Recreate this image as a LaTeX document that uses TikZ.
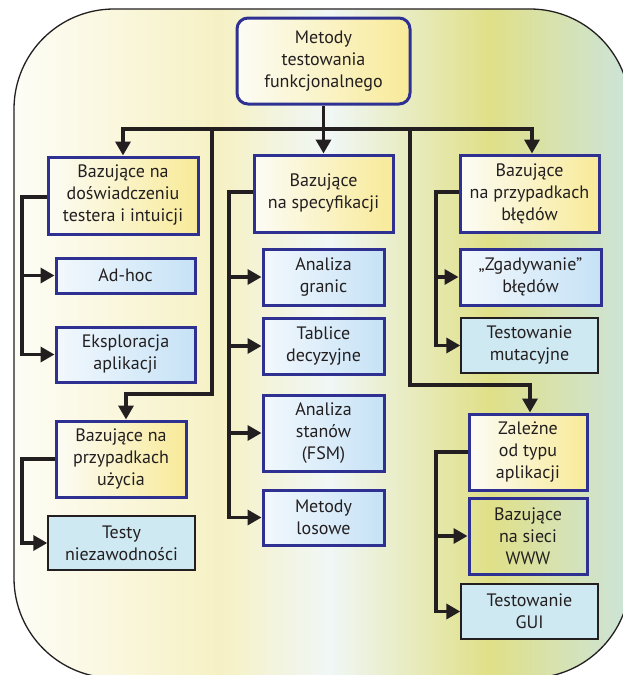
\documentclass[tikz,border=0pt]{standalone}
\usepackage{fontspec}
\setmainfont{PT Sans}
\usetikzlibrary{arrows.meta,calc}
\definecolor{ink}{HTML}{231F20}
\definecolor{navy}{HTML}{2E3192}
\definecolor{bgA}{HTML}{FDFDF6}
\definecolor{bgB}{HTML}{F6F1C4}
\definecolor{bgC}{HTML}{F0F7F6}
\definecolor{bgD}{HTML}{E0E088}
\definecolor{bgE}{HTML}{CCE4DA}
\definecolor{yl}{HTML}{FCFCF6}
\definecolor{yr}{HTML}{F8EA98}
\definecolor{bl}{HTML}{F2F8FD}
\definecolor{br}{HTML}{C6E2F6}
\definecolor{cy}{HTML}{CFE9F3}
\pgfdeclarehorizontalshading{bgshade}{100bp}{color(0bp)=(bgA); color(25bp)=(bgA); color(41.7bp)=(bgB); color(50.6bp)=(bgC); color(63.6bp)=(bgD); color(75bp)=(bgE); color(100bp)=(bgE)}
\tikzset{
  base/.style={text=ink, align=center, font=\fontsize{18}{22}\selectfont, inner sep=0pt},
  ybox/.style={base, draw=navy, line width=3pt, left color=yl, right color=yr},
  bbox/.style={base, draw=navy, line width=3pt, left color=bl, right color=br},
  cbox/.style={base, draw=ink, line width=1.4pt, fill=cy},
  wbox/.style={base, draw=navy, line width=3pt},
  conn/.style={draw=ink, line width=3.4pt},
  arr/.style={conn, -{Triangle[length=14pt,width=15pt]}},
}
\begin{document}
\begin{tikzpicture}[x=1pt,y=1pt]
\useasboundingbox (0,0) rectangle (622,-675);
\path[shade, shading=bgshade, draw=ink, line width=1.3pt, rounded corners=100pt] (14,-9) rectangle (630,-678);

% nodes
\node[ybox, rounded corners=11pt, minimum width=173pt, minimum height=86pt] (top) at (323.5,-61) {Metody\\testowania\\funkcjonalnego};
\node[ybox, minimum width=150pt, minimum height=77pt] (exp) at (123,-195.5) {Bazujące na\\doświadczeniu\\testera i intuicji};
\node[ybox, minimum width=139pt, minimum height=77pt] (spec) at (323.5,-193.5) {Bazujące\\na specyfikacji};
\node[ybox, minimum width=139pt, minimum height=77pt] (bled) at (529.5,-193.5) {Bazujące\\na przypadkach\\błędów};
\node[bbox, minimum width=139pt, minimum height=35pt] (adhoc) at (125.5,-275.5) {Ad-hoc};
\node[bbox, minimum width=139pt, minimum height=55pt] (ekspl) at (125.5,-354.5) {Eksploracja\\aplikacji};
\node[ybox, minimum width=130pt, minimum height=76pt] (uzycia) at (121,-459) {Bazujące na\\przypadkach\\użycia};
\node[cbox, minimum width=147pt, minimum height=54pt] (testy) at (121.5,-543) {Testy\\niezawodności};
\node[bbox, minimum width=121pt, minimum height=56pt] (granic) at (323.5,-277) {Analiza\\granic};
\node[bbox, minimum width=121pt, minimum height=56pt] (tablice) at (323.5,-346) {Tablice\\decyzyjne};
\node[bbox, minimum width=121pt, minimum height=76pt] (stanow) at (323.5,-433) {Analiza\\stanów\\(FSM)};
\node[bbox, minimum width=121pt, minimum height=55pt] (losowe) at (323.5,-517.5) {Metody\\losowe};
\node[bbox, minimum width=141pt, minimum height=56pt] (zgad) at (530.5,-277) {„Zgadywanie”\\błędów};
\node[cbox, minimum width=137pt, minimum height=55pt] (mutac) at (529.5,-345.5) {Testowanie\\mutacyjne};
\node[ybox, minimum width=118pt, minimum height=76pt] (zalezne) at (528,-452) {Zależne\\od typu\\aplikacji};
\node[wbox, minimum width=118pt, minimum height=76pt] (www) at (528,-536) {Bazujące\\na sieci\\WWW};
\node[cbox, minimum width=137pt, minimum height=55pt] (gui) at (529.5,-611.5) {Testowanie\\GUI};

% coordinates
\coordinate (busL) at (123,-129);
\coordinate (busR) at (532,-129);
\coordinate (j1) at (212,-129);
\coordinate (k1) at (126,-394);
\coordinate (j2) at (410,-129);
\coordinate (k2) at (530,-385);
\coordinate (cL) at (22,0);
\coordinate (cM) at (229,0);
\coordinate (cR) at (436,0);

% top level
\draw[arr] (busR) -- (busL) -- (busL |- exp.north);
\draw[arr] (busL) -- (busR) -- (busR |- bled.north);
\draw[arr] (top.south) -- (spec.north);
\draw[arr] (j1) |- (k1) -- (k1 |- uzycia.north);
\draw[arr] (j2) |- (k2) -- (k2 |- zalezne.north);

% feeders
\draw[arr] ($(exp.west)+(0,-1.5)$) -| (cL |- ekspl.west) -- (ekspl.west);
\draw[arr] (cL |- adhoc.west) -- (adhoc.west);
\draw[arr] ($(spec.west)+(0,1.5)$) -| (cM |- losowe.west) -- (losowe.west);
\foreach \n in {granic,tablice,stanow} \draw[arr] (cM |- \n.west) -- (\n.west);
\draw[arr] ($(bled.west)+(0,1.5)$) -| (cR |- mutac.west) -- (mutac.west);
\draw[arr] (cR |- zgad.west) -- (zgad.west);
\draw[arr] (uzycia.west) -| (cL |- testy.west) -- (testy.west);
\draw[arr] (zalezne.west) -| (cR |- gui.west) -- (gui.west);
\draw[arr] (cR |- www.west) -- (www.west);
\end{tikzpicture}
\end{document}
